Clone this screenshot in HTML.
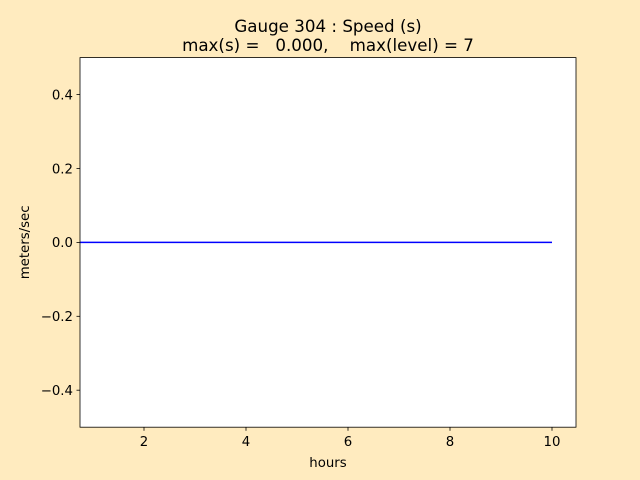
<!DOCTYPE html>
<html><head><meta charset="utf-8"><style>
html,body{margin:0;padding:0;background:#ffebbf;}
svg{display:block;font-family:"DejaVu Sans","Liberation Sans",sans-serif;}
</style></head><body>
<svg width="640" height="480" viewBox="0 0 640 480" xmlns="http://www.w3.org/2000/svg">
<rect width="640" height="480" fill="#ffebbf"/>
<rect x="80" y="57.6" width="496" height="369.6" fill="#fff"/>
<line x1="80" y1="242.4" x2="552" y2="242.4" stroke="#0000ff" stroke-width="1.5"/>
<rect x="80" y="57.6" width="496" height="369.6" fill="none" stroke="#000" stroke-width="0.8"/>
<g stroke="#000" stroke-width="0.8">
<line x1="144" y1="427.2" x2="144" y2="430.7"/>
<line x1="246" y1="427.2" x2="246" y2="430.7"/>
<line x1="348" y1="427.2" x2="348" y2="430.7"/>
<line x1="450" y1="427.2" x2="450" y2="430.7"/>
<line x1="552" y1="427.2" x2="552" y2="430.7"/>
<line x1="76.5" y1="94.6" x2="80" y2="94.6"/>
<line x1="76.5" y1="168.5" x2="80" y2="168.5"/>
<line x1="76.5" y1="242.4" x2="80" y2="242.4"/>
<line x1="76.5" y1="316.3" x2="80" y2="316.3"/>
<line x1="76.5" y1="390.2" x2="80" y2="390.2"/>
</g>
<g font-size="13.3" fill="#000" text-anchor="middle">
<text x="144" y="446">2</text>
<text x="246" y="446">4</text>
<text x="348" y="446">6</text>
<text x="450" y="446">8</text>
<text x="552" y="446">10</text>
</g>
<g font-size="13.3" fill="#000" text-anchor="end">
<text x="73" y="99.4">0.4</text>
<text x="73" y="173.3">0.2</text>
<text x="73" y="247.2">0.0</text>
<text x="73" y="321.1">−0.2</text>
<text x="73" y="395">−0.4</text>
</g>
<text x="328" y="467" font-size="13.3" text-anchor="middle">hours</text>
<text transform="translate(29,242.4) rotate(-90)" font-size="13.3" text-anchor="middle">meters/sec</text>
<text x="328" y="32" font-size="16.7" text-anchor="middle">Gauge 304 : Speed (s)</text>
<text x="328" y="51" font-size="16.7" text-anchor="middle" xml:space="preserve">max(s) =   0.000,    max(level) = 7</text>
</svg>
</body></html>
